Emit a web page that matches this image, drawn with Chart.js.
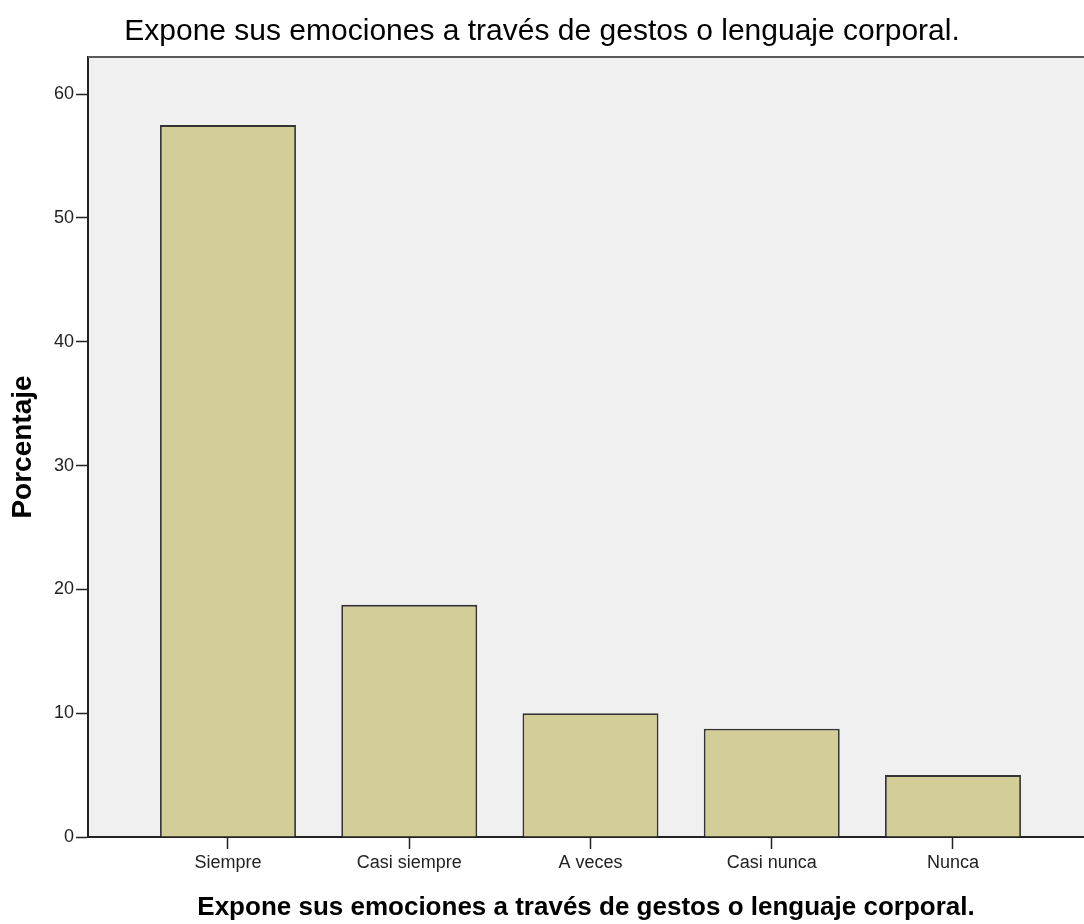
<!DOCTYPE html>
<html>
<head>
<meta charset="utf-8">
<script src="https://cdn.jsdelivr.net/npm/chart.js@4.4.1/dist/chart.umd.min.js"></script>
<style>
  body { margin: 0; background: #ffffff; }
  #chart { display: block; }
</style>
</head>
<body>
<canvas id="chart" width="1084" height="924"></canvas>
<script>
// Data
const categories = ['Siempre', 'Casi siempre', 'A veces', 'Casi nunca', 'Nunca'];
const percentages = [57.5, 18.75, 10, 8.75, 5];
const yTicks = [0, 10, 20, 30, 40, 50, 60];

const chartTitle = 'Expone sus emociones a través de gestos o lenguaje corporal.';
const xTitle = 'Expone sus emociones a través de gestos o lenguaje corporal.';
const yTitle = 'Porcentaje';

// Plot background and top frame line (SPSS style)
const plotFrame = {
    id: 'plotFrame',
    beforeDraw(chart) {
        const {ctx, chartArea} = chart;
        ctx.save();
        ctx.fillStyle = '#f0f0f0';
        ctx.fillRect(chartArea.left, chartArea.top, chartArea.right - chartArea.left, chartArea.bottom - chartArea.top);
        ctx.restore();
    },
    afterDraw(chart) {
        const {ctx, chartArea} = chart;
        ctx.save();
        ctx.strokeStyle = '#5a5a5a';
        ctx.lineWidth = 2;
        ctx.beginPath();
        ctx.moveTo(chartArea.left, chartArea.top);
        ctx.lineTo(chartArea.right, chartArea.top);
        ctx.stroke();
        ctx.restore();
    }
};

const ctx = document.getElementById('chart').getContext('2d');

new Chart(ctx, {
    type: 'bar',
    data: {
        datasets: [{
            data: percentages.map((v, i) => ({x: i + 1, y: v})),
            backgroundColor: '#d3ce97',
            borderColor: '#333333',
            borderWidth: 1.8,
            categoryPercentage: 1,
            barPercentage: 0.75
        }]
    },
    options: {
        responsive: false,
        animation: false,
        layout: {padding: 0},
        plugins: {
            legend: {display: false},
            tooltip: {enabled: false},
            title: {
                display: true,
                text: chartTitle,
                color: '#000',
                font: {family: 'Liberation Sans', size: 30, weight: 'normal'},
                padding: {top: 13.5, bottom: 7.5}
            }
        },
        scales: {
            x: {
                type: 'linear',
                offset: false,
                min: 0.2276,
                max: 5.7228,
                afterFit(scale) { scale.height = 87; },
                afterBuildTicks(scale) {
                    scale.ticks = categories.map((c, i) => ({value: i + 1}));
                },
                ticks: {
                    color: '#222',
                    font: {family: 'Liberation Sans', size: 18},
                    padding: 3,
                    autoSkip: false,
                    maxRotation: 0,
                    callback: (v) => categories[v - 1] || ''
                },
                grid: {offset: false, drawOnChartArea: false, drawTicks: true, tickLength: 12, tickColor: '#222', tickWidth: 1.5},
                border: {color: '#222', width: 2},
                title: {
                    display: true,
                    text: xTitle,
                    color: '#000',
                    font: {family: 'Liberation Sans', size: 26, weight: 'bold'},
                    padding: {top: 0, bottom: 1}
                }
            },
            y: {
                min: 0,
                max: 63,
                afterFit(scale) { scale.width = 88; },
                afterBuildTicks(scale) {
                    scale.ticks = yTicks.map(v => ({value: v}));
                },
                ticks: {
                    color: '#222',
                    font: {family: 'Liberation Sans', size: 18},
                    padding: 2
                },
                grid: {drawOnChartArea: false, drawTicks: true, tickLength: 12, tickColor: '#222', tickWidth: 1.5},
                border: {color: '#222', width: 2},
                title: {
                    display: true,
                    text: yTitle,
                    color: '#000',
                    font: {family: 'Liberation Sans', size: 28, weight: 'bold'},
                    padding: {top: 6, bottom: 0}
                }
            }
        }
    },
    plugins: [plotFrame]
});
</script>
</body>
</html>
